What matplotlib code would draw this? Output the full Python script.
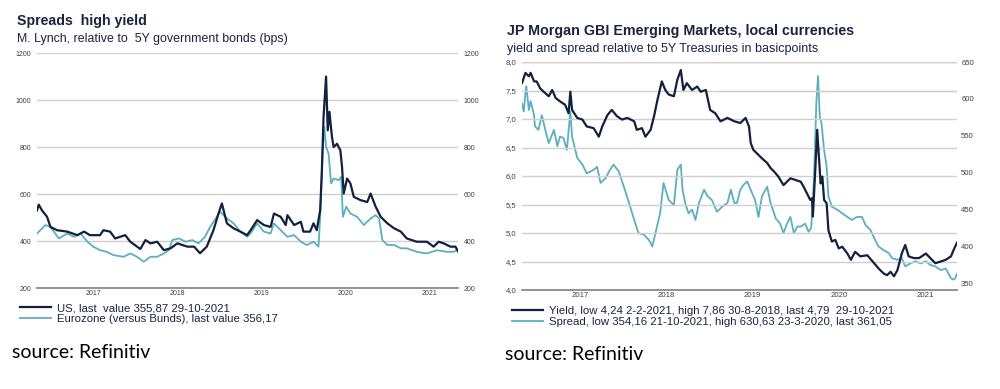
import matplotlib
matplotlib.use('Agg')
import matplotlib.pyplot as plt
from matplotlib.ticker import FuncFormatter

# ===== data: decimal years =====
us_t = [2016.83, 2016.85, 2016.89, 2016.95, 2016.99, 2017.07, 2017.19, 2017.31, 2017.39, 2017.46,
        2017.58, 2017.62, 2017.70, 2017.76, 2017.88, 2017.94, 2018.06, 2018.12, 2018.18, 2018.26,
        2018.34, 2018.42, 2018.50, 2018.62, 2018.70, 2018.77, 2018.85, 2018.93, 2018.99, 2019.03,
        2019.09, 2019.17, 2019.25, 2019.33, 2019.37, 2019.45, 2019.53, 2019.61, 2019.65, 2019.73,
        2019.79, 2019.81, 2019.89, 2019.97, 2020.00, 2020.08, 2020.12, 2020.16, 2020.20, 2020.22,
        2020.24, 2020.27, 2020.29, 2020.31, 2020.34, 2020.36, 2020.40, 2020.44, 2020.46, 2020.48,
        2020.52, 2020.56, 2020.60, 2020.68, 2020.76, 2020.80, 2020.86, 2020.92, 2021.00, 2021.08,
        2021.16, 2021.23, 2021.35, 2021.47, 2021.55, 2021.61, 2021.67, 2021.75, 2021.81, 2021.84]
us_v = [530, 555, 530, 503, 460, 446, 440, 425, 440, 425,
        425, 446, 440, 411, 425, 397, 366, 404, 390, 397,
        361, 369, 390, 376, 376, 348, 376, 446, 517, 560,
        475, 454, 440, 425, 445, 489, 468, 460, 517, 503,
        468, 510, 468, 482, 440, 440, 475, 446, 532, 700,
        928, 1100, 871, 950, 843, 800, 814, 786, 715, 602,
        666, 645, 588, 574, 566, 602, 546, 503, 475, 454,
        440, 411, 397, 397, 376, 397, 390, 376, 376, 356]

ez_t = [2016.83, 2016.93, 2016.99, 2017.09, 2017.19, 2017.27, 2017.35, 2017.43, 2017.50, 2017.58,
        2017.66, 2017.74, 2017.86, 2017.94, 2018.02, 2018.10, 2018.18, 2018.26, 2018.34, 2018.40,
        2018.44, 2018.52, 2018.60, 2018.68, 2018.75, 2018.83, 2018.89, 2018.97, 2019.01, 2019.09,
        2019.17, 2019.25, 2019.33, 2019.37, 2019.45, 2019.53, 2019.61, 2019.65, 2019.73, 2019.81,
        2019.89, 2019.97, 2020.04, 2020.12, 2020.18, 2020.20, 2020.23, 2020.25, 2020.27, 2020.30,
        2020.33, 2020.36, 2020.42, 2020.45, 2020.47, 2020.51, 2020.56, 2020.64, 2020.72, 2020.80,
        2020.86, 2020.90, 2020.94, 2021.00, 2021.08, 2021.16, 2021.23, 2021.35, 2021.47, 2021.59,
        2021.71, 2021.79, 2021.84]
ez_v = [432, 468, 460, 411, 432, 418, 432, 397, 376, 361,
        354, 340, 333, 347, 333, 312, 333, 333, 347, 361,
        404, 411, 397, 404, 390, 418, 460, 503, 524, 496,
        475, 440, 418, 432, 475, 440, 432, 475, 446, 418,
        425, 397, 383, 397, 376, 503, 786, 886, 800, 772,
        645, 666, 659, 673, 503, 546, 517, 503, 468, 496,
        510, 496, 404, 383, 383, 369, 369, 354, 347, 361,
        354, 354, 365]

yl_t = [2016.83, 2016.87, 2016.91, 2016.93, 2016.97, 2017.00, 2017.04, 2017.08, 2017.14, 2017.18,
        2017.22, 2017.27, 2017.33, 2017.37, 2017.39, 2017.41, 2017.47, 2017.53, 2017.58, 2017.66,
        2017.72, 2017.76, 2017.82, 2017.87, 2017.93, 2017.99, 2018.05, 2018.13, 2018.16, 2018.22,
        2018.26, 2018.32, 2018.36, 2018.40, 2018.45, 2018.49, 2018.53, 2018.59, 2018.63, 2018.67,
        2018.70, 2018.74, 2018.80, 2018.86, 2018.90, 2018.96, 2019.01, 2019.07, 2019.13, 2019.21,
        2019.29, 2019.36, 2019.42, 2019.46, 2019.48, 2019.51, 2019.55, 2019.61, 2019.67, 2019.71,
        2019.75, 2019.80, 2019.86, 2019.90, 2019.94, 2020.00, 2020.06, 2020.09, 2020.13, 2020.17,
        2020.19, 2020.20, 2020.23, 2020.25, 2020.27, 2020.29, 2020.31, 2020.33, 2020.36, 2020.38,
        2020.42, 2020.46, 2020.50, 2020.54, 2020.60, 2020.64, 2020.69, 2020.75, 2020.83, 2020.91,
        2020.96, 2021.02, 2021.06, 2021.10, 2021.14, 2021.18, 2021.23, 2021.27, 2021.31, 2021.37,
        2021.43, 2021.51, 2021.56, 2021.62, 2021.68, 2021.74, 2021.80, 2021.83, 2021.87]
yl_v = [7.63, 7.81, 7.75, 7.81, 7.66, 7.66, 7.54, 7.48, 7.40, 7.51,
        7.37, 7.31, 7.25, 7.10, 7.48, 7.16, 7.02, 6.99, 6.87, 6.84,
        6.69, 6.87, 7.07, 7.16, 7.05, 6.99, 7.02, 6.96, 6.81, 6.84,
        6.69, 6.81, 7.05, 7.34, 7.66, 7.51, 7.43, 7.40, 7.69, 7.86,
        7.51, 7.63, 7.51, 7.57, 7.48, 7.51, 7.16, 7.10, 6.96, 7.02,
        6.96, 6.93, 7.02, 6.87, 6.58, 6.46, 6.40, 6.31, 6.23, 6.14,
        6.08, 5.99, 5.84, 5.90, 5.96, 5.93, 5.90, 5.82, 5.70, 5.58,
        5.61, 5.29, 6.17, 6.81, 6.34, 5.87, 5.99, 5.58, 5.52, 5.05,
        4.85, 4.88, 4.73, 4.76, 4.64, 4.53, 4.67, 4.59, 4.61, 4.47,
        4.38, 4.29, 4.26, 4.32, 4.24, 4.35, 4.64, 4.79, 4.59, 4.56,
        4.56, 4.64, 4.56, 4.47, 4.50, 4.53, 4.59, 4.70, 4.83]

sp_t = [2016.83, 2016.85, 2016.87, 2016.88, 2016.91, 2016.93, 2016.97, 2016.98, 2017.02, 2017.06,
        2017.10, 2017.14, 2017.20, 2017.24, 2017.27, 2017.31, 2017.35, 2017.39, 2017.41, 2017.47,
        2017.53, 2017.58, 2017.66, 2017.70, 2017.74, 2017.80, 2017.85, 2017.89, 2017.95, 2018.01,
        2018.07, 2018.13, 2018.18, 2018.24, 2018.30, 2018.34, 2018.38, 2018.43, 2018.47, 2018.53,
        2018.59, 2018.63, 2018.67, 2018.69, 2018.72, 2018.76, 2018.80, 2018.84, 2018.88, 2018.94,
        2018.98, 2019.03, 2019.09, 2019.15, 2019.21, 2019.25, 2019.29, 2019.32, 2019.36, 2019.40,
        2019.44, 2019.48, 2019.53, 2019.57, 2019.61, 2019.67, 2019.71, 2019.77, 2019.82, 2019.86,
        2019.90, 2019.94, 2019.98, 2020.02, 2020.06, 2020.11, 2020.15, 2020.18, 2020.20, 2020.22,
        2020.24, 2020.26, 2020.28, 2020.30, 2020.33, 2020.36, 2020.38, 2020.42, 2020.48, 2020.54,
        2020.60, 2020.65, 2020.71, 2020.77, 2020.81, 2020.87, 2020.92, 2020.96, 2021.02, 2021.08,
        2021.12, 2021.18, 2021.23, 2021.27, 2021.33, 2021.39, 2021.45, 2021.51, 2021.56, 2021.62,
        2021.68, 2021.74, 2021.80, 2021.83, 2021.85, 2021.87]
sp_v = [594, 583, 608, 617, 585, 597, 578, 563, 558, 578,
        558, 540, 558, 536, 549, 547, 531, 583, 549, 520,
        511, 499, 504, 508, 486, 493, 504, 511, 502, 481,
        459, 436, 418, 416, 409, 400, 420, 445, 486, 463,
        456, 504, 511, 477, 459, 445, 450, 436, 459, 477,
        468, 463, 447, 454, 459, 477, 459, 459, 477, 484,
        488, 477, 463, 440, 468, 481, 459, 438, 431, 418,
        431, 440, 418, 427, 427, 431, 420, 425, 459, 517,
        594, 631, 576, 567, 531, 508, 468, 454, 450, 445,
        440, 436, 440, 440, 429, 422, 409, 400, 395, 391,
        384, 382, 384, 373, 377, 380, 377, 380, 375, 373,
        368, 370, 357, 355, 357, 363]

year_pos = [2017.5, 2018.5, 2019.5, 2020.5, 2021.5]
year_labels = ['2017', '2018', '2019', '2020', '2021']
left_ticks = [200, 400, 600, 800, 1000, 1200]
yield_ticks = [4.0, 4.5, 5.0, 5.5, 6.0, 6.5, 7.0, 7.5, 8.0]
spread_ticks = [350, 400, 450, 500, 550, 600, 650]

NAVY = '#14203f'
TEAL = '#5cb0bd'
TXT = '#1a2340'
TICK = '#3a4050'
GRID = '#cfcfcf'

plt.rcParams['font.family'] = ['Liberation Sans', 'DejaVu Sans']

fig = plt.figure(figsize=(10, 3.89), dpi=100)


def style(ax, fs):
    for s in ['top', 'left', 'right']:
        ax.spines[s].set_visible(False)
    ax.spines['bottom'].set_color('#8a8a8a')
    ax.spines['bottom'].set_linewidth(1.3)
    ax.grid(True, axis='y', color=GRID, linewidth=1.0)
    ax.set_axisbelow(True)
    ax.set_xticks(year_pos)
    ax.set_xticklabels(year_labels)
    ax.tick_params(axis='both', length=0, labelsize=fs, colors=TICK)
    ax.tick_params(axis='x', pad=1.5)


# ===== left panel: high yield spreads =====
ax1 = fig.add_axes([0.037, 0.2596, 0.421, 0.604])
ax1.plot(ez_t, ez_v, color=TEAL, lw=1.3, label='Eurozone (versus Bunds), last value 356,17')
ax1.plot(us_t, us_v, color=NAVY, lw=1.6, label='US, last  value 355,87 29-10-2021')
ax1.set_xlim(2016.83, 2021.84)
ax1.set_ylim(200, 1200)
ax1.set_yticks(left_ticks)
style(ax1, 5.0)
ax1.tick_params(axis='y', labelleft=True, labelright=True, pad=4)

fig.text(0.017, 0.935, 'Spreads  high yield', fontsize=10.2, fontweight='bold', color=TXT)
fig.text(0.017, 0.892, 'M. Lynch, relative to  5Y government bonds (bps)', fontsize=8.9, color=TXT)

h1, l1 = ax1.get_legend_handles_labels()
fig.legend(h1[::-1], l1[::-1], loc='upper left', bbox_to_anchor=(0.018, 0.226), frameon=False,
           fontsize=8.2, handlelength=2.7, handletextpad=0.5, labelspacing=0.05, labelcolor=TXT,
           borderaxespad=0, borderpad=0.2)

# ===== right panel: JPM GBI-EM =====
ax2 = fig.add_axes([0.522, 0.2545, 0.435, 0.586])
ax3 = ax2.twinx()
ax3.plot(sp_t, sp_v, color=TEAL, lw=1.3, label='Spread, low 354,16 21-10-2021, high 630,63 23-3-2020, last 361,05')
ax2.plot(yl_t, yl_v, color=NAVY, lw=1.6, label='Yield, low 4,24 2-2-2021, high 7,86 30-8-2018, last 4,79  29-10-2021')
ax2.set_xlim(2016.83, 2021.87)
ax2.set_ylim(4.0, 8.0)
ax2.set_yticks(yield_ticks)
ax2.yaxis.set_major_formatter(FuncFormatter(lambda v, p: f'{v:.1f}'.replace('.', ',')))
style(ax2, 5.6)
ax2.tick_params(axis='y', pad=4)
ax3.set_ylim(341, 650)
ax3.set_yticks(spread_ticks)
for s in ['top', 'left', 'right', 'bottom']:
    ax3.spines[s].set_visible(False)
ax3.tick_params(axis='y', length=0, labelsize=5.6, colors=TICK, pad=3)
# tinted gridlines seen on the right half of the upper grid
ax2.axhline(8.0, xmin=0.0, xmax=0.45, color='#b8bfdc', lw=1.0, zorder=0.5)
ax2.axhline(8.0, xmin=0.45, xmax=1.0, color='#e3b7bd', lw=1.0, zorder=0.5)
ax2.axhline(7.5, xmin=0.45, xmax=1.0, color='#b9dcb4', lw=1.0, zorder=0.5)
ax2.set_zorder(ax3.get_zorder() + 1)
ax2.patch.set_visible(False)

fig.text(0.507, 0.910, 'JP Morgan GBI Emerging Markets, local currencies', fontsize=10.3,
         fontweight='bold', color=TXT)
fig.text(0.507, 0.866, 'yield and spread relative to 5Y Treasuries in basicpoints', fontsize=9.0, color=TXT)

h2, l2 = ax2.get_legend_handles_labels()
h3, l3 = ax3.get_legend_handles_labels()
fig.legend(h2 + h3, l2 + l3, loc='upper left', bbox_to_anchor=(0.51, 0.219), frameon=False,
           fontsize=8.2, handlelength=2.7, handletextpad=0.5, labelspacing=0.05, labelcolor=TXT,
           borderaxespad=0, borderpad=0.2)

# ===== source notes =====
fig.text(0.012, 0.080, 'source: Refinitiv', fontsize=14, family=['Lato', 'DejaVu Sans'], color='black')
fig.text(0.505, 0.075, 'source: Refinitiv', fontsize=14, family=['Lato', 'DejaVu Sans'], color='black')

plt.savefig('out.png', dpi=100)
plt.close()
